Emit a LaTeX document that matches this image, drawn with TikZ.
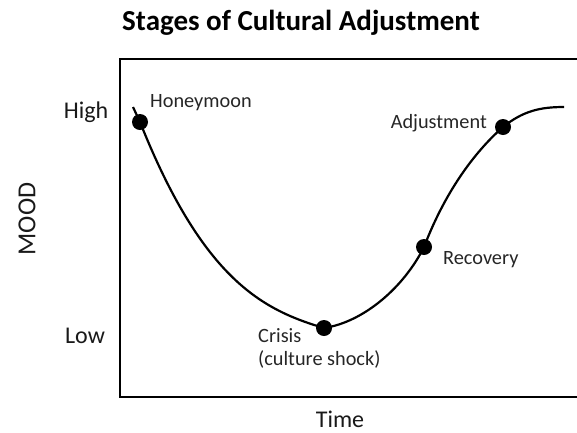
\documentclass[tikz,border=0pt]{standalone}
\usepackage{fontspec}
\setmainfont{Carlito}
\begin{document}
\begin{tikzpicture}[x=1pt,y=-1pt,
  dot/.style={circle,fill=black,minimum size=16pt,inner sep=0pt},
  lbl/.style={font=\fontsize{20.3}{23}\selectfont,inner sep=0pt,text=black!85},
  axl/.style={font=\fontsize{24}{28}\selectfont,inner sep=0pt,text=black!90},
  curve/.style={line width=2.2pt}]
\useasboundingbox (0,0) rectangle (577,432);
% title
\node[font=\bfseries\fontsize{29}{33}\selectfont,inner sep=0pt] (title) at (301,23) {Stages of Cultural Adjustment};
% frame
\coordinate (tr) at (577,59);
\coordinate (tl) at (120,59);
\coordinate (bl) at (120,397);
\coordinate (br) at (577,397);
\draw[line width=1.4pt] (tr) -- (tl) -- (bl) -- (br);
% axis labels
\node[axl] (high) at (86,112) {High};
\node[axl] (low) at (85,336) {Low};
\node[axl,font=\fontsize{26}{30}\selectfont,rotate=90] (mood) at (27,219) {MOOD};
\node[axl] (time) at (340,419) {Time};
% curve
\coordinate (start) at (133,107);
\coordinate (finish) at (564,107);
\coordinate (hmc) at (140,122);
\coordinate (crc) at (324,328);
\coordinate (rec) at (424,247);
\coordinate (adc) at (503,127);
\draw[curve] (start) -- (hmc)
  .. controls (203,280) and (263,310) .. (crc)
  .. controls (364,322) and (404,287) .. (rec)
  .. controls (447,187) and (478,149) .. (adc)
  .. controls (523,111) and (540,107) .. (finish);
% dots
\node[dot] (hm) at (hmc) {};
\node[dot] (cr) at (crc) {};
\node[dot] (re) at (rec) {};
\node[dot] (ad) at (adc) {};
% labels
\node[lbl,anchor=west] (hmlbl) at (150,103) {Honeymoon};
\node[lbl,anchor=north west,align=left] (crlbl) at (258,328) {Crisis\\(culture shock)};
\node[lbl,anchor=west] (relbl) at (443,260) {Recovery};
\node[lbl,anchor=east] (adlbl) at (487,123) {Adjustment};
\end{tikzpicture}
\end{document}
